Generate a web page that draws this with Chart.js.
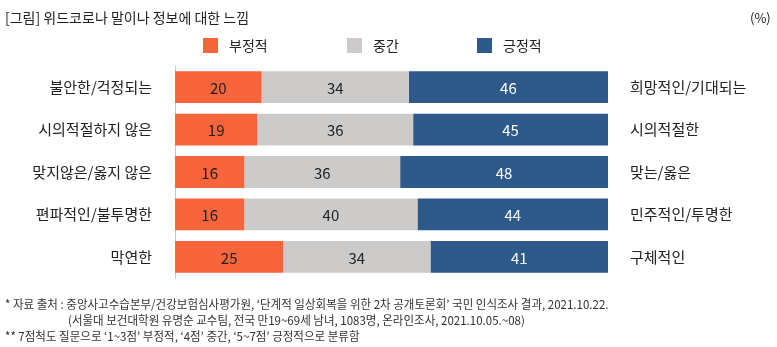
<!DOCTYPE html>
<html>
<head>
<meta charset="utf-8">
<script src="https://cdn.jsdelivr.net/npm/chart.js@4"></script>
<style>
  body { margin: 0; background: #fff; font-family: 'Noto Sans CJK KR', sans-serif; color: #222; }
  #wrap { position: relative; width: 777px; height: 347px; overflow: hidden; }
  #chart { position: absolute; left: 0; top: 0; }
  .txt { position: absolute; white-space: nowrap; line-height: 1; }
  .legend-box { position: absolute; width: 15px; height: 15px; }
  .note { position: absolute; white-space: nowrap; font-size: 12px; line-height: 1; color: #333;
          transform: scaleX(0.96); transform-origin: left center; }
</style>
</head>
<body>
<div id="wrap">
  <canvas id="chart" width="777" height="347"></canvas>
  <div class="txt" style="left:5px; top:10px; font-size:14px;">[그림] 위드코로나 말이나 정보에 대한 느낌</div>
  <div class="txt" style="left:750px; top:11px; font-size:13px;">(%)</div>
  <div id="legend"></div>
  <div class="note" style="left:5px; top:298px;">* 자료 출처 : 중앙사고수습본부/건강보험심사평가원, ‘단계적 일상회복을 위한 2차 공개토론회’ 국민 인식조사 결과, 2021.10.22.</div>
  <div class="note" style="left:68px; top:314px;">(서울대 보건대학원 유명순 교수팀, 전국 만19~69세 남녀, 1083명, 온라인조사, 2021.10.05.~08)</div>
  <div class="note" style="left:5px; top:330px;">** 7점척도 질문으로 ‘1~3점’ 부정적, ‘4점’ 중간, ‘5~7점’ 긍정적으로 분류함</div>
</div>
<script>
// data
const leftLabels = ['불안한/걱정되는', '시의적절하지 않은', '맞지않은/옳지 않은', '편파적인/불투명한', '막연한'];
const rightLabels = ['희망적인/기대되는', '시의적절한', '맞는/옳은', '민주적인/투명한', '구체적인'];
const seriesNames = ['부정적', '중간', '긍정적'];
const negative = [20, 19, 16, 16, 25];
const neutral = [34, 36, 36, 40, 34];
const positive = [46, 45, 48, 44, 41];

const colors = ['#f8643c', '#cccbc9', '#2e5a8b'];
const valueColors = ['#222', '#222', '#fff'];
const legendX = [203, 347, 477];

Chart.defaults.font.family = "'Noto Sans CJK KR', sans-serif";
Chart.defaults.color = '#222';

// html legend
const legendEl = document.getElementById('legend');
seriesNames.forEach((name, i) => {
    const box = document.createElement('div');
    box.className = 'legend-box';
    box.style.left = legendX[i] + 'px';
    box.style.top = '38px';
    box.style.background = colors[i];
    legendEl.appendChild(box);
    const label = document.createElement('div');
    label.className = 'txt';
    label.style.left = (legendX[i] + 26) + 'px';
    label.style.top = '38px';
    label.style.fontSize = '14px';
    label.textContent = name;
    legendEl.appendChild(label);
});

// draws the numbers in the middle of each segment
const valueLabels = {
    id: 'valueLabels',
    afterDatasetsDraw(chart) {
        const ctx = chart.ctx;
        ctx.save();
        ctx.font = "15px 'Noto Sans CJK KR', sans-serif";
        ctx.textAlign = 'center';
        ctx.textBaseline = 'middle';
        chart.data.datasets.forEach((ds, i) => {
            const meta = chart.getDatasetMeta(i);
            meta.data.forEach((bar, j) => {
                const p = bar.getCenterPoint();
                ctx.fillStyle = valueColors[i];
                ctx.fillText(ds.data[j], p.x, p.y + 1);
            });
        });
        ctx.restore();
    }
};

const ctx = document.getElementById('chart').getContext('2d');
const chart = new Chart(ctx, {
    type: 'bar',
    data: {
        labels: leftLabels,
        datasets: [negative, neutral, positive].map((values, i) => ({
            label: seriesNames[i],
            data: values,
            backgroundColor: colors[i],
            borderWidth: 0,
            barPercentage: 1,
            categoryPercentage: 0.75,
        })),
    },
    options: {
        indexAxis: 'y',
        responsive: false,
        animation: false,
        devicePixelRatio: 1,
        layout: { padding: { top: 66, bottom: 69, left: 0, right: 0 } },
        plugins: {
            legend: { display: false },
            tooltip: { enabled: false },
        },
        scales: {
            x: {
                stacked: true,
                min: 0,
                max: 100,
                display: false,
            },
            y: {
                stacked: true,
                position: 'left',
                grid: { display: false, drawTicks: false },
                border: { display: true, color: '#c8c8c8', width: 1 },
                ticks: { padding: 23, font: { size: 15 }, color: '#222' },
                afterFit(scale) { scale.width = 175; },
            },
            y2: {
                type: 'category',
                labels: rightLabels,
                offset: true,
                position: 'right',
                grid: { display: false, drawTicks: false },
                border: { display: false },
                ticks: { padding: 22, font: { size: 15 }, color: '#222' },
                afterFit(scale) { scale.width = 169; },
            },
        },
    },
    plugins: [valueLabels],
});
</script>
</body>
</html>
